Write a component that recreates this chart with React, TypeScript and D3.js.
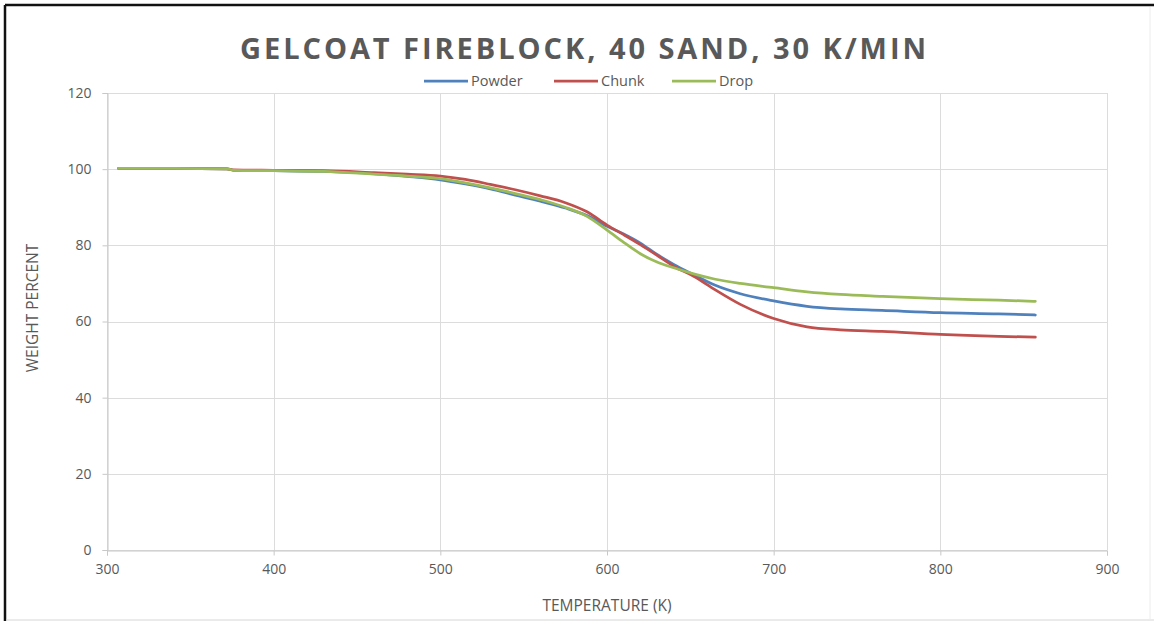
import React, { useEffect, useRef } from 'react'
import * as d3 from 'd3'

// temperature (K) sampled along the curves
const temperature = [
  307, 340, 372, 376, 400, 430, 460, 480, 500, 515, 530, 545, 560, 575, 588, 600,
  610, 620, 630, 640, 652, 665, 680, 700, 720, 740, 765, 800, 835, 857,
]

const powder = [
  100.2, 100.2, 100.1, 99.7, 99.6, 99.4, 98.8, 98.1, 97.2, 96.1, 94.8, 93.2, 91.6, 89.8, 87.8, 85.0,
  83.0, 80.6, 77.6, 75.0, 72.3, 69.5, 67.3, 65.4, 64.0, 63.3, 62.9, 62.3, 62.0, 61.7,
]

const chunk = [
  100.2, 100.2, 100.1, 99.8, 99.7, 99.6, 99.1, 98.7, 98.2, 97.3, 96.0, 94.6, 93.0, 91.2, 88.8, 85.3,
  82.8, 80.2, 77.4, 74.5, 71.9, 68.3, 64.5, 60.8, 58.6, 57.8, 57.4, 56.6, 56.1, 55.9,
]

const drop = [
  100.2, 100.2, 100.1, 99.7, 99.6, 99.4, 98.7, 98.2, 97.5, 96.4, 95.1, 93.6, 92.0, 90.0, 87.6, 84.0,
  80.8, 77.8, 75.6, 74.1, 72.5, 71.1, 70.0, 68.9, 67.8, 67.1, 66.6, 66.0, 65.6, 65.3,
]

const seriesNames = ['Powder', 'Chunk', 'Drop']
const seriesColors = ['#4F81BD', '#C0504D', '#9BBB59']
const xTicks = [300, 400, 500, 600, 700, 800, 900]
const yTicks = [0, 20, 40, 60, 80, 100, 120]

const W = 1154
const H = 625

export default function App() {
  const ref = useRef<SVGSVGElement | null>(null)

  useEffect(() => {
    if (!ref.current) return
    const svg = d3.select(ref.current)
    svg.selectAll('*').remove()

    const left = 107
    const right = 1107
    const top = 93
    const bottom = 550
    const textColor = '#595959'
    const font = '"Open Sans", "Noto Sans", sans-serif'

    const x = d3.scaleLinear().domain([300, 900]).range([left, right])
    const y = d3.scaleLinear().domain([0, 120]).range([bottom, top])

    // sheet frame
    svg.append('rect').attr('width', W).attr('height', H).attr('fill', '#fff')
    svg.append('line').attr('x1', 5).attr('x2', W).attr('y1', 5).attr('y2', 5)
      .attr('stroke', '#111').attr('stroke-width', 2.5)
    svg.append('line').attr('x1', 5).attr('x2', 5).attr('y1', 5).attr('y2', 621)
      .attr('stroke', '#111').attr('stroke-width', 2.5)
    svg.append('line').attr('x1', 6).attr('x2', W).attr('y1', 620).attr('y2', 620)
      .attr('stroke', '#d6d6d6').attr('stroke-width', 1)
    svg.append('line').attr('x1', 1150).attr('x2', 1150).attr('y1', 7).attr('y2', 620)
      .attr('stroke', '#ececec').attr('stroke-width', 1)

    // gridlines
    const grid = svg.append('g').attr('stroke', '#dcdcdc').attr('stroke-width', 1)
    grid.selectAll('line.h').data(yTicks).join('line').attr('class', 'h')
      .attr('x1', left).attr('x2', right)
      .attr('y1', (d) => Math.round(y(d)) + 0.5).attr('y2', (d) => Math.round(y(d)) + 0.5)
    grid.selectAll('line.v').data(xTicks).join('line').attr('class', 'v')
      .attr('y1', top).attr('y2', bottom)
      .attr('x1', (d) => Math.round(x(d)) + 0.5).attr('x2', (d) => Math.round(x(d)) + 0.5)

    // axes
    const xAxis = svg.append('g').attr('transform', `translate(0,${Math.round(bottom) + 0.5})`)
      .call(d3.axisBottom(x).tickValues(xTicks).tickSize(5).tickPadding(9))
    const yAxis = svg.append('g').attr('transform', `translate(${Math.round(left) + 0.5},0)`)
      .call(d3.axisLeft(y).tickValues(yTicks).tickSize(5).tickPadding(11))
    for (const a of [xAxis, yAxis]) {
      a.select('.domain').attr('stroke', '#c8c8c8')
      a.selectAll('.tick line').attr('stroke', '#c8c8c8')
      a.selectAll('.tick text').attr('fill', textColor).style('font-family', font).style('font-size', '14px')
    }

    // series
    const rows = [powder, chunk, drop]
    const line = d3.line<number>()
      .x((_d, i) => x(temperature[i]))
      .y((d) => y(d))
      .curve(d3.curveMonotoneX)
    rows.forEach((vals, k) => {
      svg.append('path').attr('d', line(vals)).attr('fill', 'none')
        .attr('stroke', seriesColors[k]).attr('stroke-width', 2.75).attr('stroke-linecap', 'round')
    })

    // title
    svg.append('text').attr('x', 240).attr('y', 59)
      .attr('textLength', 686).attr('lengthAdjust', 'spacing')
      .attr('fill', textColor).style('font-family', font)
      .style('font-size', '29px').style('font-weight', 700)
      .text('GELCOAT FIREBLOCK, 40 SAND, 30 K/MIN')

    // legend
    const legendX = [424, 554, 672]
    const leg = svg.append('g')
    seriesNames.forEach((name, k) => {
      leg.append('line').attr('x1', legendX[k]).attr('x2', legendX[k] + 44)
        .attr('y1', 81).attr('y2', 81).attr('stroke', seriesColors[k]).attr('stroke-width', 2.75)
      leg.append('text').attr('x', legendX[k] + 47).attr('y', 86)
        .attr('fill', textColor).style('font-family', font).style('font-size', '14.5px')
        .text(name)
    })

    // axis titles
    svg.append('text').attr('x', 607).attr('y', 611)
      .attr('text-anchor', 'middle').attr('fill', textColor)
      .style('font-family', font).style('font-size', '15.5px')
      .text('TEMPERATURE (K)')
    svg.append('text').attr('transform', 'translate(38,308) rotate(-90)')
      .attr('text-anchor', 'middle').attr('fill', textColor)
      .style('font-family', font).style('font-size', '15.5px')
      .text('WEIGHT PERCENT')

    return () => {
      svg.selectAll('*').remove()
    }
  }, [])

  return (
    <svg ref={ref} width={W} height={H}
      style={{ position: 'absolute', left: 0, top: 0, display: 'block' }} />
  )
}
